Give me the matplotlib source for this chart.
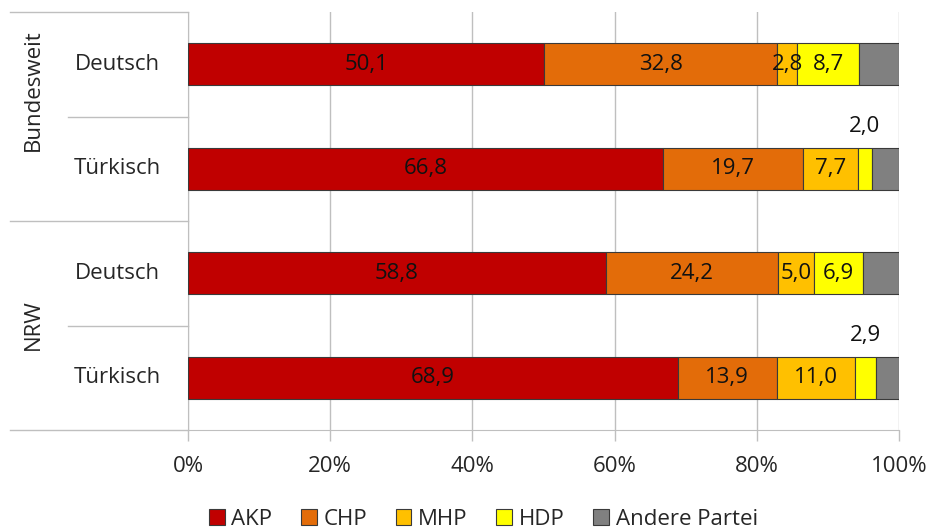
import matplotlib
matplotlib.use("Agg")
import matplotlib.pyplot as plt
from matplotlib.patches import Patch
from matplotlib.lines import Line2D

plt.rcParams["font.family"] = ["Open Sans", "DejaVu Sans"]

groups = ["Bundesweit", "NRW"]
rows = ["Deutsch", "Türkisch", "Deutsch", "Türkisch"]
parties = ["AKP", "CHP", "MHP", "HDP", "Andere Partei"]
akp = [50.1, 66.8, 58.8, 68.9]
chp = [32.8, 19.7, 24.2, 13.9]
mhp = [2.8, 7.7, 5.0, 11.0]
hdp = [8.7, 2.0, 6.9, 2.9]
andere = [5.6, 3.8, 5.1, 3.3]
colors = ["#C00000", "#E36C09", "#FFC000", "#FFFF00", "#808080"]
series = [akp, chp, mhp, hdp, andere]

TXT = "#262626"
GRID = "#BFBFBF"
FS = 16

fig = plt.figure(figsize=(9.33, 5.32), dpi=100)
ax = fig.add_axes([188 / 933, 1 - 430 / 532, 711 / 933, 418 / 532])

ypos = list(range(len(rows)))
left = [0.0] * len(rows)
for si, (vals, col) in enumerate(zip(series, colors)):
    ax.barh(ypos, vals, left=left, height=0.4, color=col,
            edgecolor="#3a3a3a", linewidth=0.8, zorder=3)
    if si < 4:
        for i, v in enumerate(vals):
            xc = left[i] + v / 2
            lab = f"{v:.1f}".replace(".", ",")
            # tiny HDP shares are labelled above the bar
            yc = i - 0.4 if (si == 3 and v < 3) else i
            ax.text(xc, yc, lab, ha="center", va="center",
                    fontsize=FS, color="#111111", zorder=4)
    left = [l + v for l, v in zip(left, vals)]

ax.set_xlim(0, 100)
ax.set_ylim(3.5, -0.5)
ax.set_xticks([0, 20, 40, 60, 80, 100])
ax.set_xticklabels([f"{t}%" for t in [0, 20, 40, 60, 80, 100]],
                   fontsize=FS, color=TXT)
ax.tick_params(axis="x", length=8, color=GRID, width=1, pad=11)
ax.set_yticks([])
ax.grid(axis="x", color=GRID, linewidth=1, zorder=0)
for s in ["top", "right"]:
    ax.spines[s].set_visible(False)
ax.spines["left"].set_color(GRID)
ax.spines["bottom"].set_color(GRID)

# category axis on the left
tr = ax.get_yaxis_transform()
for y, x0 in [(-0.5, -0.2504), (0.5, -0.1688), (1.5, -0.2504),
              (2.5, -0.1688), (3.5, -0.2504)]:
    ax.add_line(Line2D([x0, 0], [y, y], transform=tr, color=GRID,
                       linewidth=1, clip_on=False))
for i, r in enumerate(rows):
    ax.text(-0.0999, i, r, transform=tr, ha="center", va="center",
            fontsize=FS, color=TXT)
ax.text(-0.218, 0.25, groups[0], transform=tr, rotation=90,
        ha="center", va="center", fontsize=FS, color=TXT)
ax.text(-0.218, 2.495, groups[1], transform=tr, rotation=90,
        ha="center", va="center", fontsize=FS, color=TXT)

handles = [Patch(facecolor=c, edgecolor="#3a3a3a", linewidth=0.8) for c in colors]
fig.legend(handles, parties, loc="center", bbox_to_anchor=(0.518, 0.024),
           ncol=5, frameon=False, fontsize=FS, handlelength=0.7,
           handleheight=0.7, handletextpad=0.3, columnspacing=1.3,
           labelcolor=TXT)

fig.savefig("out.png", dpi=100)
